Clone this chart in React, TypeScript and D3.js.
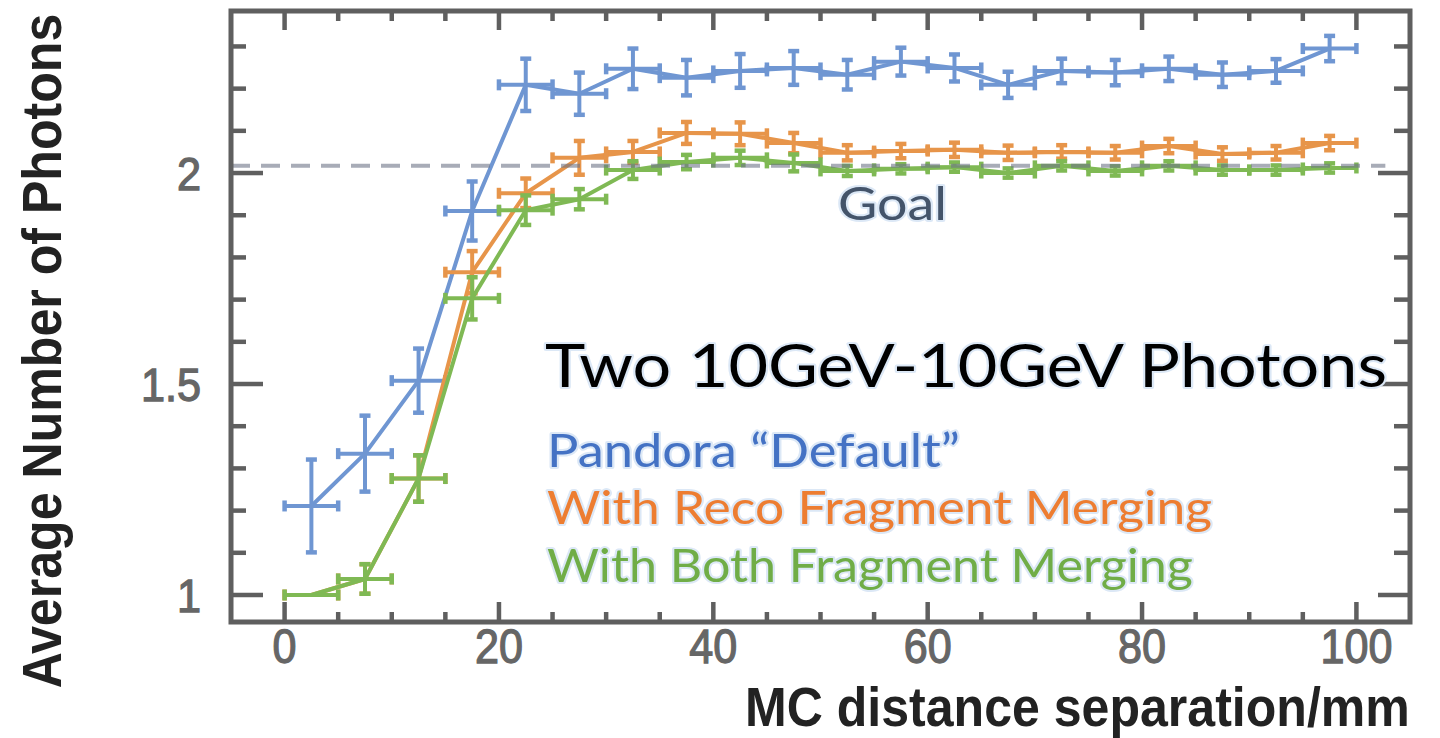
import React from 'react';
import * as d3 from 'd3';

// ---- data ----
const binCenters = [2.5, 7.5, 12.5, 17.5, 22.5, 27.5, 32.5, 37.5, 42.5, 47.5, 52.5, 57.5, 62.5, 67.5, 72.5, 77.5, 82.5, 87.5, 92.5, 97.5];
const binHalfWidth = 2.5;

const defaultValues = [1.211, 1.335, 1.508, 1.910, 2.209, 2.188, 2.247, 2.226, 2.242, 2.249, 2.233, 2.264, 2.249, 2.209, 2.242, 2.238, 2.247, 2.233, 2.242, 2.295];
const defaultErrors = [0.11, 0.09, 0.076, 0.07, 0.062, 0.05, 0.048, 0.042, 0.04, 0.04, 0.035, 0.033, 0.032, 0.031, 0.029, 0.030, 0.029, 0.029, 0.028, 0.030];

const recoValues = [1.0, 1.038, 1.276, 1.765, 1.952, 2.036, 2.050, 2.095, 2.093, 2.071, 2.048, 2.052, 2.055, 2.048, 2.050, 2.048, 2.064, 2.045, 2.048, 2.071];
const recoErrors = [0, 0.035, 0.055, 0.05, 0.035, 0.04, 0.026, 0.026, 0.027, 0.024, 0.018, 0.017, 0.017, 0.017, 0.016, 0.016, 0.017, 0.016, 0.016, 0.017];

const bothValues = [1.0, 1.038, 1.276, 1.703, 1.912, 1.938, 2.007, 2.026, 2.036, 2.024, 2.005, 2.010, 2.014, 2.000, 2.017, 2.005, 2.017, 2.007, 2.007, 2.012];
const bothErrors = [0, 0.035, 0.055, 0.05, 0.035, 0.024, 0.021, 0.017, 0.017, 0.02, 0.012, 0.011, 0.011, 0.011, 0.011, 0.011, 0.011, 0.011, 0.011, 0.011];

const seriesNames = ['Pandora \u201CDefault\u201D', 'With Reco Fragment Merging', 'With Both Fragment Merging'];
const chartTitle = 'Two 10GeV-10GeV Photons';
const goalLabel = 'Goal';
const goalValue = 2.017;
const goalEnd = 102.7;

const xExtent = [-5, 105];
const yExtent = [0.936, 2.384];
const xMajorTicks = [0, 20, 40, 60, 80, 100];
const xMinorTicks = [5, 10, 15, 25, 30, 35, 45, 50, 55, 65, 70, 75, 85, 90, 95];
const xTickLabels = ['0', '20', '40', '60', '80', '100'];
const yMajorTicks = [1, 1.5, 2];
const yMinorTicks = [1.1, 1.2, 1.3, 1.4, 1.6, 1.7, 1.8, 1.9, 2.1, 2.2, 2.3];
const yTickLabels = ['1', '1.5', '2'];
const xAxisTitle = 'MC distance separation/mm';
const yAxisTitle = 'Average Number of Photons';

const lineColors = ['#6f96d2', '#e7954a', '#7fb954'];
const legendColors = ['#4472c4', '#ed7d31', '#70ad47'];

export default function App() {
  const W = 1440, H = 738;
  const left = 231, right = 1410, top = 11, bottom = 622;
  const x = d3.scaleLinear().domain(xExtent).range([left, right]);
  const y = d3.scaleLinear().domain(yExtent).range([bottom, top]);
  const line = d3.line<number>().x((_, i) => x(binCenters[i])).y(d => y(d));

  const series = [
    { values: defaultValues, errors: defaultErrors, color: lineColors[0] },
    { values: recoValues, errors: recoErrors, color: lineColors[1] },
    { values: bothValues, errors: bothErrors, color: lineColors[2] },
  ];

  const axisColor = '#5f5f5f';
  const cap = 5.5;
  const halo = { stroke: '#dce8f6', strokeWidth: 4, paintOrder: 'stroke', strokeLinejoin: 'round' as const };

  return (
    <svg width={W} height={H} style={{ position: 'absolute', left: 0, top: 0, background: '#fff' }}>
      <rect x={0} y={0} width={W} height={H} fill="#fff" />
      {series.map((s, si) => (
        <g key={si} stroke={s.color} fill="none" strokeLinecap="butt">
          <path d={line(s.values) || ''} strokeWidth={4} strokeLinejoin="round" />
          {s.values.map((v, i) => {
            const cx = x(binCenters[i]);
            const cy = y(v);
            const e = s.errors[i];
            const xl = x(binCenters[i] - binHalfWidth);
            const xr = x(binCenters[i] + binHalfWidth);
            return (
              <g key={i}>
                <line x1={xl} x2={xr} y1={cy} y2={cy} strokeWidth={4} />
                <line x1={xl} x2={xl} y1={cy - cap} y2={cy + cap} strokeWidth={4.5} />
                <line x1={xr} x2={xr} y1={cy - cap} y2={cy + cap} strokeWidth={4.5} />
                {e > 0 && (
                  <g>
                    <line x1={cx} x2={cx} y1={y(v - e)} y2={y(v + e)} strokeWidth={4} />
                    <line x1={cx - cap} x2={cx + cap} y1={y(v - e)} y2={y(v - e)} strokeWidth={4.5} />
                    <line x1={cx - cap} x2={cx + cap} y1={y(v + e)} y2={y(v + e)} strokeWidth={4.5} />
                  </g>
                )}
              </g>
            );
          })}
        </g>
      ))}
      <line x1={x(xExtent[0])} x2={x(goalEnd)} y1={y(goalValue)} y2={y(goalValue)}
        stroke="#6e7587" strokeOpacity={0.6} strokeWidth={4} strokeDasharray="19 11" />

      {/* ticks */}
      <g stroke={axisColor} strokeWidth={4.5}>
        {xMajorTicks.map(t => (
          <g key={'xM' + t}>
            <line x1={x(t)} x2={x(t)} y1={bottom} y2={bottom - 20} />
            <line x1={x(t)} x2={x(t)} y1={top} y2={top + 19} />
          </g>
        ))}
        {xMinorTicks.map(t => (
          <g key={'xm' + t}>
            <line x1={x(t)} x2={x(t)} y1={bottom} y2={bottom - 10} />
            <line x1={x(t)} x2={x(t)} y1={top} y2={top + 10} />
          </g>
        ))}
        {yMajorTicks.map(t => (
          <g key={'yM' + t}>
            <line x1={left} x2={left + 32} y1={y(t)} y2={y(t)} />
            <line x1={right} x2={right - 32} y1={y(t)} y2={y(t)} />
          </g>
        ))}
        {yMinorTicks.map(t => (
          <g key={'ym' + t}>
            <line x1={left} x2={left + 15} y1={y(t)} y2={y(t)} />
            <line x1={right} x2={right - 16} y1={y(t)} y2={y(t)} />
          </g>
        ))}
      </g>
      <rect x={left} y={top} width={right - left} height={bottom - top} fill="none" stroke={axisColor} strokeWidth={5} />

      {/* tick labels */}
      <g fill="#666" stroke="#666" strokeWidth={1.3} fontFamily="'Liberation Sans', Arial, sans-serif">
        {xMajorTicks.map((t, i) => (
          <text key={'xl' + t} transform={`translate(${x(t)},663) scale(0.88,1)`} fontSize={49} textAnchor="middle">{xTickLabels[i]}</text>
        ))}
        {yMajorTicks.map((t, i) => (
          <text key={'yl' + t} transform={`translate(201,${y(t) + 17}) scale(0.92,1)`} fontSize={47} textAnchor="end">{yTickLabels[i]}</text>
        ))}
      </g>

      {/* axis titles */}
      <g fill="#222" fontFamily="'Liberation Sans', Arial, sans-serif" fontWeight="bold" fontSize={56}>
        <text transform="translate(745,726) scale(0.894,1)">{xAxisTitle}</text>
        <text transform="translate(61,351) rotate(-90) scale(0.895,1)" textAnchor="middle">{yAxisTitle}</text>
      </g>

      {/* annotations */}
      <g fontFamily="Lato, 'Noto Sans', sans-serif" {...halo}>
        <text x={838} y={220} fontSize={46} fill="#44546a" textLength={109} lengthAdjust="spacingAndGlyphs">{goalLabel}</text>
        <text x={545} y={387} fontSize={60} fill="#000" textLength={842} lengthAdjust="spacingAndGlyphs">{chartTitle}</text>
        <text x={547} y={467} fontSize={46} fill={legendColors[0]} textLength={413} lengthAdjust="spacingAndGlyphs">{seriesNames[0]}</text>
        <text x={547} y={524} fontSize={46} fill={legendColors[1]} textLength={665} lengthAdjust="spacingAndGlyphs">{seriesNames[1]}</text>
        <text x={547} y={582} fontSize={46} fill={legendColors[2]} textLength={646} lengthAdjust="spacingAndGlyphs">{seriesNames[2]}</text>
      </g>
    </svg>
  );
}
